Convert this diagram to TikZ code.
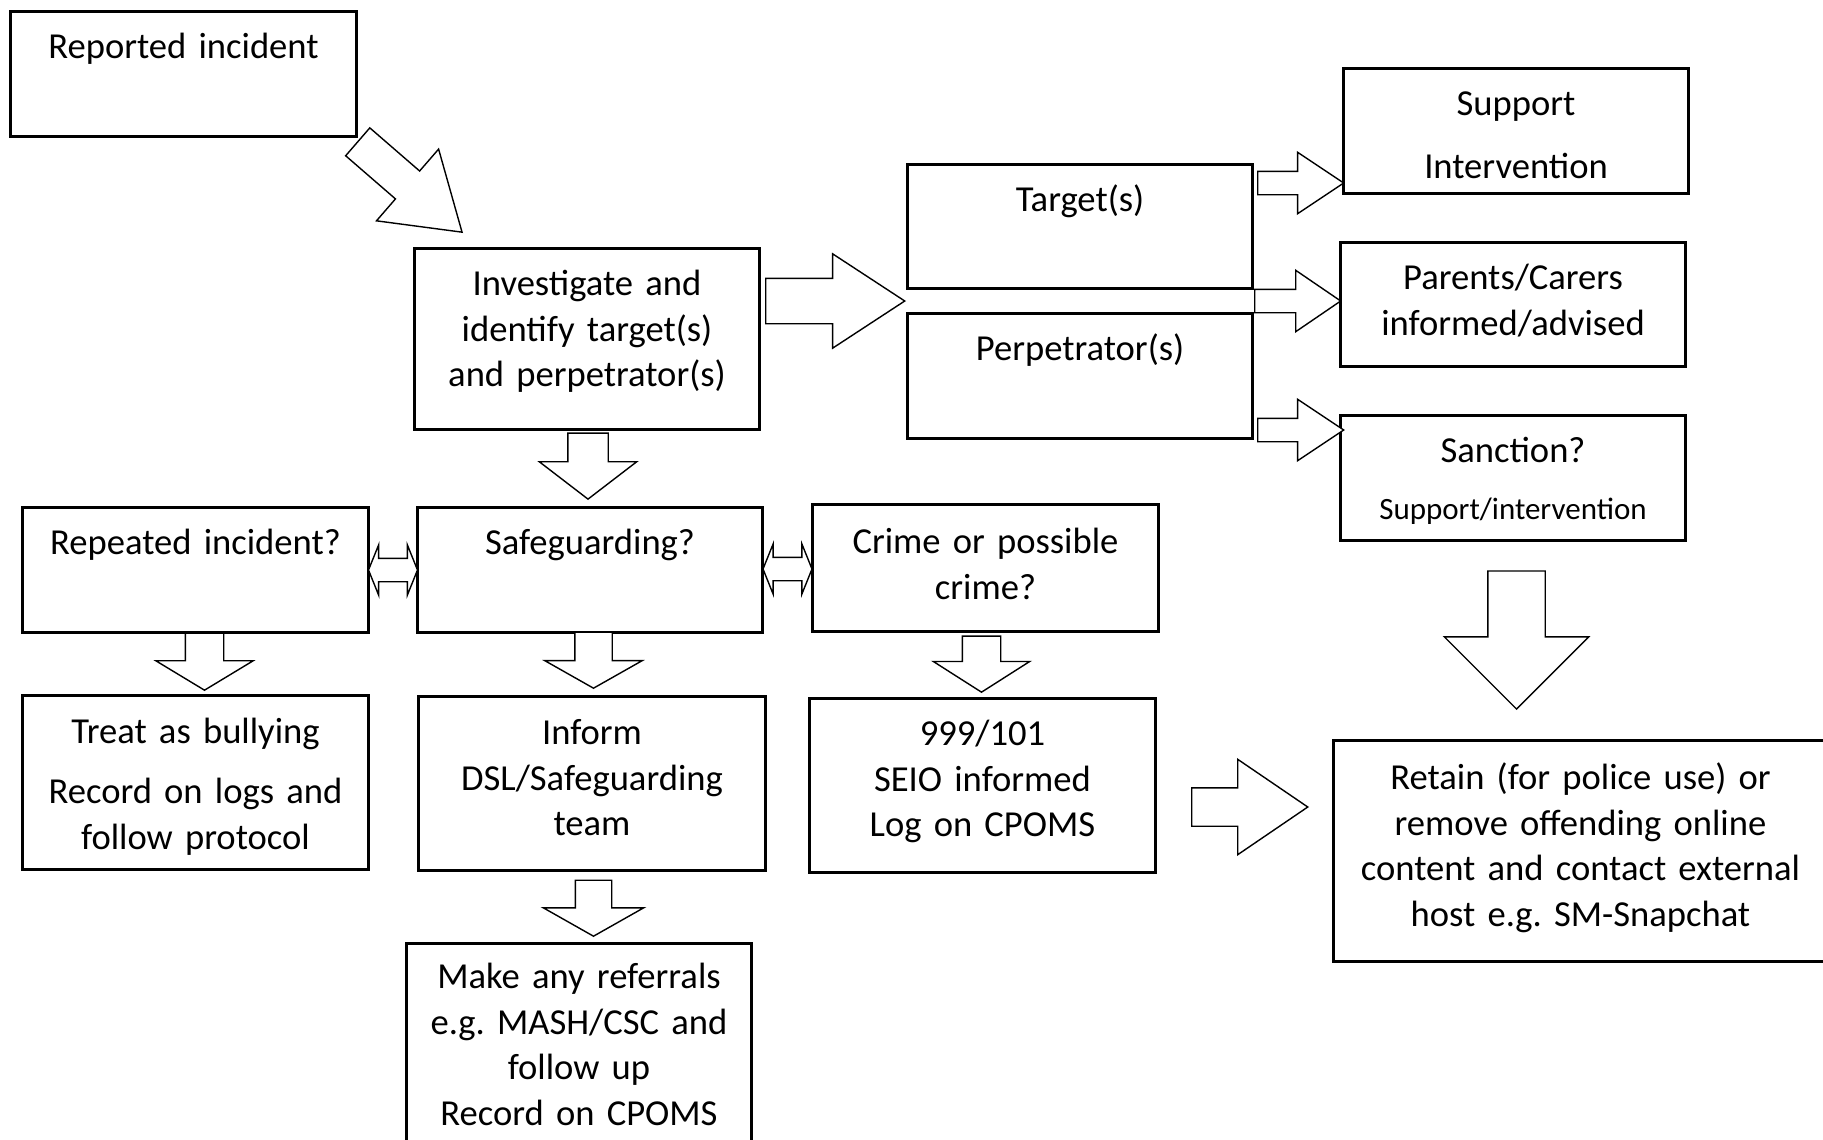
\documentclass[tikz,border=0pt]{standalone}
\usepackage{fontspec}
\setmainfont{Carlito}
\frenchspacing
\usetikzlibrary{shapes,calc}

\begin{document}
\begin{tikzpicture}[x=1pt,y=-1pt,
  box/.style={draw,line width=3pt,inner sep=0pt,anchor=north west,align=center,text height=47pt,font=\fontsize{36.6}{45.5}\selectfont},
  blockarrow/.style={single arrow,draw,fill=white,line width=1.4pt,inner sep=0pt,minimum width=0pt},
  twoway/.style={double arrow,draw,fill=white,line width=1.4pt,inner sep=0pt,inner ysep=11pt,minimum width=0pt,minimum height=49pt,double arrow head extend=13.5pt,double arrow tip angle=136}]
  \fill[white] (0,0) rectangle (1823,1140);
  \useasboundingbox (0,0) rectangle (1823,1140);
  \node[box,text width=346pt,text depth=78pt] (rep) at (9,10) {Reported incident};
  \node[box,text width=345pt,text depth=134pt] (inv) at (413,247) {Investigate and\\identify target(s)\\and perpetrator(s)};
  \node[box,text width=345pt,text depth=77pt] (tgt) at (906,163) {Target(s)};
  \node[box,text width=345pt,text depth=78pt] (per) at (906,312) {Perpetrator(s)};
  \node[box,text width=345pt,text depth=78pt] (sup) at (1342,67) {Support\\[17.5pt]Intervention};
  \node[box,text width=345pt,text depth=77pt] (par) at (1339,241) {Parents/Carers\\informed/advised};
  \node[box,text width=345pt,text depth=78pt] (san) at (1339,414) {Sanction?\\[11.5pt]{\fontsize{31}{38}\selectfont Support/intervention}};
  \node[box,text width=346pt,text depth=78pt] (rpt) at (21,506) {Repeated incident?};
  \node[box,text width=345pt,text depth=78pt] (safe) at (416,506) {Safeguarding?};
  \node[box,text width=346pt,text height=49pt,text depth=78pt] (crime) at (811,503) {Crime or possible\\crime?};
  \node[box,text width=346pt,text height=48pt,text depth=126pt] (treat) at (21,694) {Treat as bullying\\[14.5pt]Record on logs and\\follow protocol};
  \node[box,text width=347pt,text height=48pt,text depth=126pt] (inf) at (417,695) {Inform\\DSL/Safeguarding\\team};
  \node[box,text width=346pt,text depth=127pt] (pol) at (808,697) {999/101\\SEIO informed\\Log on CPOMS};
  \node[box,text width=494pt,text height=49pt,text depth=172pt] (ret) at (1332,739) {Retain (for police use) or\\remove offending online\\content and contact external\\host e.g. SM-Snapchat};
  \node[box,text width=345pt,text height=45pt,text depth=200pt] (ref) at (405,942) {Make any referrals\\e.g. MASH/CSC and\\follow up\\Record on CPOMS};

  \node[blockarrow,anchor=tip,rotate=-40.9,inner ysep=17.75pt,single arrow head extend=29pt,single arrow tip angle=66.7,minimum height=138pt] (a0) at ($(inv.north west)+(50,-14)$) {};
  \node[blockarrow,anchor=tip,inner ysep=22pt,single arrow head extend=24.5pt,single arrow tip angle=66.4,minimum height=139pt] (a1) at ($(tgt.south west)!.5!(per.north west)$) {};
  \node[blockarrow,anchor=tip,rotate=-90,inner ysep=19.5pt,single arrow head extend=28.5pt,single arrow tip angle=105,minimum height=66pt] (a2) at ($(safe.north)+(-2,-6)$) {};
  \node[blockarrow,anchor=tail,inner ysep=11pt,single arrow head extend=19pt,single arrow tip angle=67.4,minimum height=86pt] (a3) at ($(tgt.north east)+(3,20)$) {};
  \node[blockarrow,anchor=tail,inner ysep=11pt,single arrow head extend=19pt,single arrow tip angle=68.6,minimum height=86pt] (a4) at ($(tgt.south east)!.5!(per.north east)$) {};
  \node[blockarrow,anchor=tail,inner ysep=11pt,single arrow head extend=19pt,single arrow tip angle=67.4,minimum height=86pt] (a5) at ($(per.south east)+(3,-10)$) {};
  \node[twoway] (d1) at ($(rpt.east)!.5!(safe.west)$) {};
  \node[twoway] (d2) at ($(safe.east)!.5!(crime.west)$) {};
  \node[blockarrow,anchor=tip,rotate=-90,inner ysep=18.5pt,single arrow head extend=29.5pt,single arrow tip angle=117.7,minimum height=57pt] (a6) at ($(treat.north)+(9,-3)$) {};
  \node[blockarrow,anchor=tip,rotate=-90,inner ysep=18pt,single arrow head extend=30pt,single arrow tip angle=121,minimum height=56pt] (a7) at ($(inf.north)+(1.5,-6)$) {};
  \node[blockarrow,anchor=tip,rotate=-90,inner ysep=18.5pt,single arrow head extend=29pt,single arrow tip angle=115,minimum height=56pt] (a8) at ($(pol.north)+(-1,-4)$) {};
  \node[blockarrow,anchor=tip,rotate=-90,inner ysep=17.5pt,single arrow head extend=32pt,single arrow tip angle=121,minimum height=56pt] (a9) at ($(inf.south)+(1.5,65)$) {};
  \node[blockarrow,anchor=tip,rotate=-90,inner ysep=28pt,single arrow head extend=43.5pt,single arrow tip angle=90,minimum height=138pt] (a10) at ($(san.south)+(3.5,168)$) {};
  \node[blockarrow,anchor=tip,inner ysep=18.5pt,single arrow head extend=28.5pt,single arrow tip angle=68.5,minimum height=116pt] (a11) at ($(ret.north west)+(-23,68)$) {};
\end{tikzpicture}
\end{document}
